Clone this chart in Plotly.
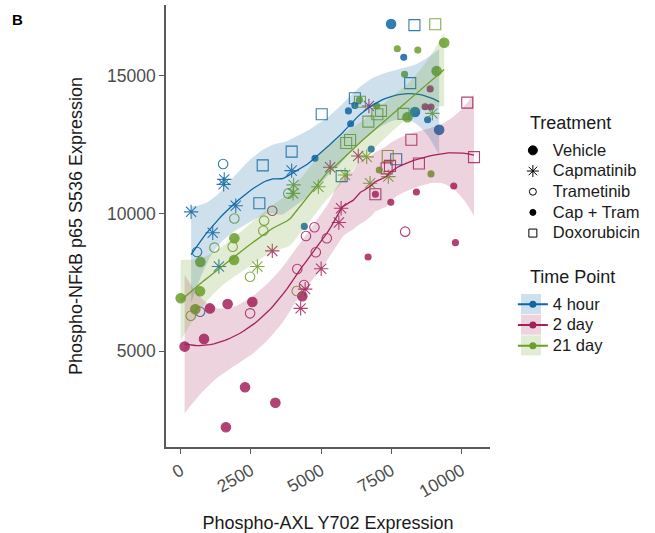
import numpy as np
import plotly.graph_objects as go

# ---------------- data ----------------
treatments = ["Vehicle", "Capmatinib", "Trametinib", "Cap + Tram", "Doxorubicin"]
time_points = ["4 hour", "2 day", "21 day"]

# 4 hour
h4_trt = (["Vehicle"] * 3 + ["Cap + Tram"] * 8 + ["Capmatinib"] * 7 +
          ["Trametinib"] * 3 + ["Doxorubicin"] * 9)
h4_x = [7490, 8340, 9200,
        4780, 5970, 6200, 6050, 6780, 8790, 7940, 4400,
        370, 1550, 1530, 1960, 3950, 1140, 1360,
        1510, 580, 690,
        3950, 2920, 2800, 5020, 6200, 5730, 8170, 8320, 7670]
h4_y = [16890, 13690, 13040,
        12010, 13730, 13930, 13260, 12340, 13410, 15680, 9530,
        10060, 11240, 11060, 10280, 11560, 9300, 8070,
        11800, 8600, 6430,
        12250, 11750, 10370, 13610, 14190, 11360, 14740, 16850, 11970]

# 2 day
d2_trt = (["Vehicle"] * 9 + ["Cap + Tram"] * 9 + ["Capmatinib"] * 9 +
          ["Trametinib"] * 9 + ["Doxorubicin"] * 7)
d2_x = [140, 830, 1040, 1670, 2550, 2290, 3370, 1610, 4330,
        6670, 9780, 7480, 9720, 8910, 8700, 8880, 8390, 6930,
        3260, 5000, 4270, 5710, 5630, 6700, 5320, 6320, 4430,
        3260, 2470, 4150, 4390, 4810, 4460, 4760, 5200, 7990,
        6930, 8210, 10200, 10440, 8480, 7450, 7330]
d2_y = [5160, 5440, 6550, 6710, 6780, 3680, 3120, 2230, 6990,
        8420, 8940, 10410, 11000, 13870, 13880, 14530, 10780, 10700,
        8640, 7990, 6550, 10190, 9670, 13910, 11680, 12090, 7250,
        10100, 6370, 7980, 7400, 8590, 9180, 9500, 9100, 9340,
        10700, 12680, 14030, 12050, 11820, 11730, 11640]

# 21 day
d21_trt = (["Vehicle"] * 9 + ["Cap + Tram"] * 7 + ["Capmatinib"] * 9 +
           ["Trametinib"] * 9 + ["Doxorubicin"] * 9)
d21_x = [9380, 9110, 8070, 1910, 1900, 700, 0, 690, 520,
         7710, 8440, 7970, 6980, 6360, 8910, 7070,
         4020, 4000, 2730, 4900, 6740, 6620, 5850, 8960, 7390,
         1910, 2970, 2940, 1850, 1200, 3830, 2470, 360, 4130,
         7000, 6680, 7130, 6030, 5890, 6380, 7930, 7370, 9060]
d21_y = [16210, 15180, 13500, 9100, 8310, 8240, 6920, 7170, 6520,
         15990, 15940, 15060, 13910, 14130, 11440, 11580,
         11040, 10730, 8070, 10970, 11100, 12060, 11400, 13640, 11340,
         9820, 9740, 9370, 8790, 8760, 10730, 7700, 6280, 7180,
         13610, 13340, 13730, 12670, 12560, 14060, 13620, 12090, 16880]

x_ticks = [0, 2500, 5000, 7500, 10000]
y_ticks = [5000, 10000, 15000]

# ---------------- styles ----------------
colors = {"4 hour": "#0f66a3", "2 day": "#a3225c", "21 day": "#6c9e2a"}
fills = {"4 hour": "rgba(15,102,163,0.2)", "2 day": "rgba(163,34,92,0.2)",
         "21 day": "rgba(108,158,42,0.2)"}
sym = {"Vehicle": ("circle", 9.5), "Capmatinib": ("asterisk-open", 12),
       "Trametinib": ("circle-open", 9.5), "Cap + Tram": ("circle", 6),
       "Doxorubicin": ("square-open", 11)}
FONT = "Liberation Sans, Arial, sans-serif"
W, H = 655, 533
ML, MR, MT, MB = 166, 165, 5, 86
pw, ph = W - ML - MR, H - MT - MB


def px2paper(xp, yp):
    return (xp - ML) / pw, (H - MB - yp) / ph


def loess_fit(x, y, span=0.75, ngrid=80):
    x = np.asarray(x, float)
    y = np.asarray(y, float)
    n = len(x)
    q = int(np.floor(n * span))

    def row(x0):
        d = np.abs(x - x0)
        h = max(np.sort(d)[q - 1], 1e-9)
        u = d / h
        w = np.where(u < 1, (1 - u ** 3) ** 3, 0.0)
        t = (x - x0) / h
        X = np.column_stack([np.ones(n), t, t ** 2])
        XtW = X.T * w
        return np.linalg.solve(XtW @ X, XtW)[0]

    L = np.array([row(v) for v in x])
    resid = y - L @ y
    R = np.eye(n) - L
    RtR = R.T @ R
    d1 = np.trace(RtR)
    d2 = np.trace(RtR @ RtR)
    sigma = np.sqrt(np.sum(resid ** 2) / d1)
    df = d1 ** 2 / d2
    z = 1.959964
    tq = z + (z ** 3 + z) / (4 * df) + (5 * z ** 5 + 16 * z ** 3 + 3 * z) / (96 * df ** 2)
    xg = np.linspace(x.min(), x.max(), ngrid)
    Lg = np.array([row(v) for v in xg])
    fit = Lg @ y
    se = sigma * np.sqrt(np.sum(Lg ** 2, axis=1))
    return xg, fit, fit - tq * se, fit + tq * se


groups = {"4 hour": (h4_x, h4_y, h4_trt),
          "2 day": (d2_x, d2_y, d2_trt),
          "21 day": (d21_x, d21_y, d21_trt)}

fig = go.Figure()

# points
for tp in time_points:
    xs, ys, ts = groups[tp]
    for tr in treatments:
        px = [a for a, t in zip(xs, ts) if t == tr]
        py = [b for b, t in zip(ys, ts) if t == tr]
        s, size = sym[tr]
        fig.add_trace(go.Scatter(
            x=px, y=py, mode="markers", showlegend=False,
            marker=dict(symbol=s, size=size, color=colors[tp], opacity=0.85,
                        line=dict(width=1.1, color=colors[tp]))))

# smooths
for tp in time_points:
    xs, ys, _ = groups[tp]
    xg, fit, lo, hi = loess_fit(xs, ys)
    fig.add_trace(go.Scatter(
        x=list(xg) + list(xg[::-1]), y=list(hi) + list(lo[::-1]),
        fill="toself", fillcolor=fills[tp], line=dict(width=0),
        mode="lines", showlegend=False, hoverinfo="skip"))
    fig.add_trace(go.Scatter(x=xg, y=fit, mode="lines", showlegend=False,
                             line=dict(color=colors[tp], width=1.3)))


def big(s, px=16.5):
    return '<span style="font-size:%spx">%s</span>' % (px, s)


# legend entries: Treatment
leg_sizes = {"Vehicle": 9, "Capmatinib": 10, "Trametinib": 7,
             "Cap + Tram": 6, "Doxorubicin": 8}
for tr in treatments:
    s, _ = sym[tr]
    fig.add_trace(go.Scatter(
        x=[None], y=[None], mode="markers", name=big(tr), legend="legend",
        marker=dict(symbol=s, size=leg_sizes[tr], color="black",
                    line=dict(width=1, color="black"))))

# legend entries: Time Point
for tp in time_points:
    fig.add_trace(go.Scatter(
        x=[None], y=[None], mode="lines+markers", name=big(tp), legend="legend2",
        line=dict(color=colors[tp], width=2),
        marker=dict(symbol="circle", size=7, color=colors[tp])))

# pale key backgrounds behind the Time Point legend keys
key_cx = 531
key_cy0, key_step = 304, 20.7
shapes = []
for i, tp in enumerate(time_points):
    cy = key_cy0 + i * key_step
    x0, y0 = px2paper(key_cx - 10, cy + 10)
    x1, y1 = px2paper(key_cx + 10, cy - 10)
    shapes.append(dict(type="rect", xref="paper", yref="paper",
                       x0=x0, x1=x1, y0=y0, y1=y1,
                       fillcolor=fills[tp], line=dict(width=0), layer="below"))

axis_common = dict(showgrid=False, zeroline=False, showline=True,
                   linecolor="#5a5a5a", linewidth=1.5, ticks="outside",
                   ticklen=5, tickwidth=1.2, tickcolor="#5a5a5a",
                   tickfont=dict(family=FONT, size=17.5, color="#4d4d4d"),
                   mirror=False, automargin=False)

tx1, ty1 = px2paper(528, 123)
tx2, ty2 = px2paper(528, 277)
bx, by = px2paper(10, 20)

fig.update_layout(
    width=W, height=H,
    margin=dict(l=ML, r=MR, t=MT, b=MB),
    paper_bgcolor="white", plot_bgcolor="white",
    font=dict(family=FONT, color="#1a1a1a"),
    xaxis=dict(range=[-523, 11010], tickvals=x_ticks,
               ticktext=[str(v) for v in x_ticks], tickangle=-30,
               title=dict(text="Phospho-AXL Y702 Expression",
                          font=dict(family=FONT, size=18, color="#1a1a1a"),
                          standoff=22),
               **axis_common),
    yaxis=dict(range=[1510, 17580], tickvals=y_ticks,
               ticktext=[str(v) for v in y_ticks],
               title=dict(text="Phospho-NFkB p65 S536 Expression",
                          font=dict(family=FONT, size=18, color="#1a1a1a"),
                          standoff=20),
               **axis_common),
    legend=dict(font=dict(size=13.6, family=FONT, color="#1a1a1a"),
                xref="container", yref="container", x=0.783, y=0.7467,
                xanchor="left", yanchor="top", tracegroupgap=0,
                bgcolor="rgba(0,0,0,0)", itemwidth=30),
    legend2=dict(font=dict(size=13.6, family=FONT, color="#1a1a1a"),
                 xref="container", yref="container", x=0.783, y=0.4578,
                 xanchor="left", yanchor="top", tracegroupgap=0,
                 bgcolor="rgba(0,0,0,0)", itemwidth=30),
    shapes=shapes,
    annotations=[
        dict(text="<b>B</b>", xref="paper", yref="paper", x=bx, y=by,
             xanchor="left", yanchor="middle", showarrow=False,
             font=dict(family=FONT, size=15, color="black")),
        dict(text="Treatment", xref="paper", yref="paper", x=tx1, y=ty1,
             xanchor="left", yanchor="middle", showarrow=False,
             font=dict(family=FONT, size=18, color="#1a1a1a")),
        dict(text="Time Point", xref="paper", yref="paper", x=tx2, y=ty2,
             xanchor="left", yanchor="middle", showarrow=False,
             font=dict(family=FONT, size=18, color="#1a1a1a")),
    ],
)

fig.write_html("out.html")
